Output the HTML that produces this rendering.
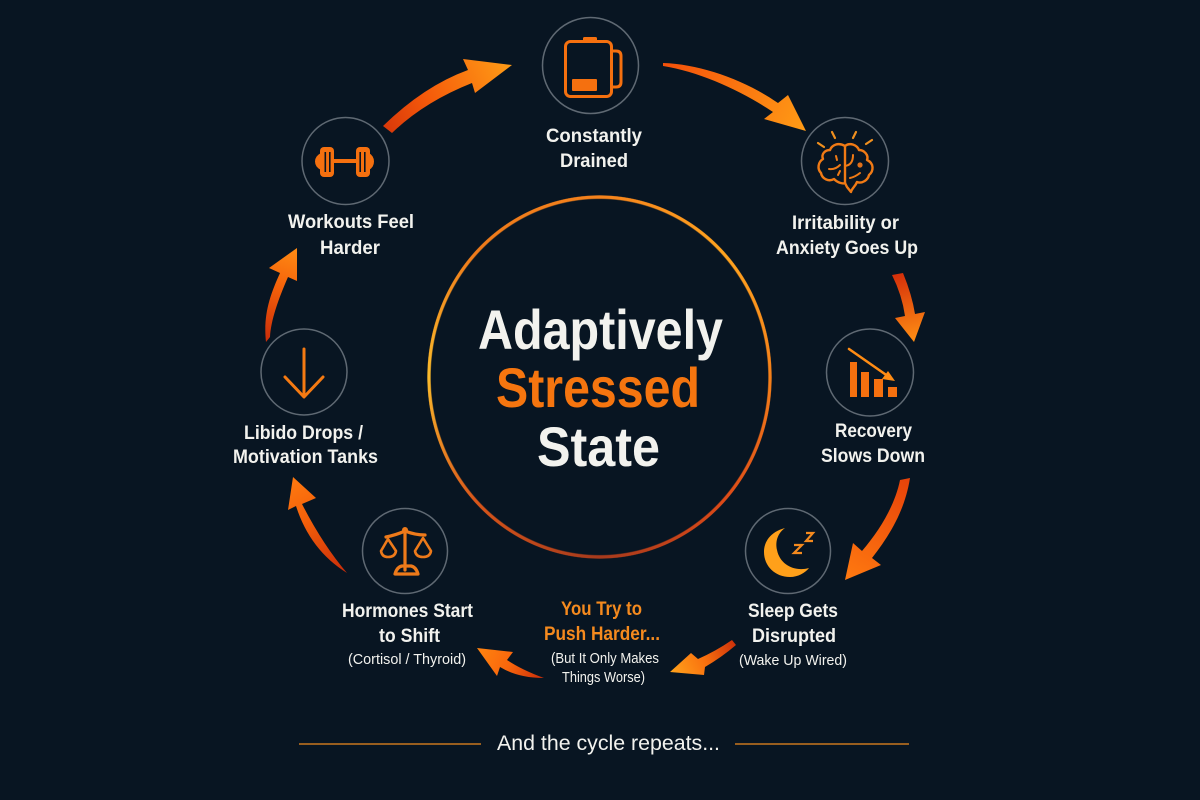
<!DOCTYPE html>
<html><head><meta charset="utf-8"><style>
html,body{margin:0;padding:0;background:#081522}
#w{position:relative;width:1200px;height:800px;overflow:hidden;background:#081522}
#ring{position:absolute;left:427px;top:195px;width:345px;height:364px;border-radius:50%;
background:conic-gradient(#f5821c 0deg,#ffa41f 45deg,#f5801a 90deg,#dc4a18 135deg,#a63a1c 180deg,#d8561a 225deg,#fbbb2c 270deg,#ee7a1a 315deg,#f5821c 360deg);
-webkit-mask:radial-gradient(closest-side,transparent 97.6%,#000 98.2%,#000 99.6%,transparent 100%);
mask:radial-gradient(closest-side,transparent 97.6%,#000 98.2%,#000 99.6%,transparent 100%)}
svg{position:absolute;left:0;top:0;filter:blur(.35px)}
text{font-family:"Liberation Sans",sans-serif;font-weight:700;fill:#f2f2ee}
.s{font-size:15px;font-weight:400}
.o{fill:#f58a1e}
.c{fill:none;stroke:#5f6973;stroke-width:1.5}
.i{fill:none;stroke:#f5700f;stroke-width:3;stroke-linecap:round;stroke-linejoin:round}
.f{fill:#f5700f}
</style></head><body><div id="w"><div id="ring"></div>
<svg width="1200" height="800" viewBox="0 0 1200 800">
<defs>
<linearGradient id="a1" gradientUnits="userSpaceOnUse" x1="385" y1="130" x2="512" y2="66"><stop offset="0" stop-color="#d8380a"/><stop offset=".35" stop-color="#f4580a"/><stop offset="1" stop-color="#ff9c16"/></linearGradient>
<linearGradient id="a2" gradientUnits="userSpaceOnUse" x1="663" y1="63" x2="806" y2="131"><stop offset="0" stop-color="#f4500a"/><stop offset="1" stop-color="#ff9c16"/></linearGradient>
<linearGradient id="a3" gradientUnits="userSpaceOnUse" x1="897" y1="275" x2="914" y2="342"><stop offset="0" stop-color="#d5300a"/><stop offset="1" stop-color="#ff8f14"/></linearGradient>
<linearGradient id="a4" gradientUnits="userSpaceOnUse" x1="905" y1="480" x2="845" y2="580"><stop offset="0" stop-color="#e8440a"/><stop offset="1" stop-color="#ff7a10"/></linearGradient>
<linearGradient id="a5" gradientUnits="userSpaceOnUse" x1="737" y1="640" x2="670" y2="673"><stop offset="0" stop-color="#c92c0a"/><stop offset=".5" stop-color="#f9700e"/><stop offset="1" stop-color="#ffa41c"/></linearGradient>
<linearGradient id="a6" gradientUnits="userSpaceOnUse" x1="543" y1="679" x2="477" y2="648"><stop offset="0" stop-color="#c92c0a"/><stop offset=".5" stop-color="#f9660c"/><stop offset="1" stop-color="#ff8410"/></linearGradient>
<linearGradient id="a7" gradientUnits="userSpaceOnUse" x1="347" y1="573" x2="293" y2="477"><stop offset="0" stop-color="#c92c0a"/><stop offset=".6" stop-color="#f4600a"/><stop offset="1" stop-color="#ff7a10"/></linearGradient>
<linearGradient id="a8" gradientUnits="userSpaceOnUse" x1="266" y1="342" x2="297" y2="248"><stop offset="0" stop-color="#c92c0a"/><stop offset=".55" stop-color="#f4600a"/><stop offset="1" stop-color="#ff8c14"/></linearGradient>
</defs>

<!-- arrows -->
<path fill="url(#a1)" d="M383 126 Q424 86 468 70 L463 59 L512 65 L475 93 L472 83 Q424 102 392 133 Z"/>
<path fill="url(#a2)" d="M663 63 C700 64 745 80 778 103 L788 95 L806 131 L764 119 L773 112 C740 90 700 72 663 66 Z"/>
<path fill="url(#a3)" d="M892 275 L903 273 Q912 295 915 314 L925 312 L914 342 L895 318 L905 316 Q902 295 892 275 Z"/>
<path fill="url(#a4)" d="M900 480 L910 478 C905 510 890 535 872 558 L881 565 L845 580 L853 543 L862 551 C880 530 895 505 900 480 Z"/>
<path fill="url(#a5)" d="M670 672 L691 653 L698 659 Q716 651 732 640 L736 645 Q722 657 705 667 L704 675 Z"/>
<path fill="url(#a6)" d="M477 648 L513 652 L507 660 Q522 670 544 678 Q518 678 500 667 L497 676 Z"/>
<path fill="url(#a7)" d="M293 477 L316 498 L302 504 Q323 545 347 573 Q310 550 296 506 L288 510 Z"/>
<path fill="url(#a8)" d="M266 342 C263 315 270 295 280 273 L269 268 L297 248 L297 281 L288 277 C278 300 271 320 270 337 Z"/>

<!-- node circles -->
<circle class="c" cx="590.5" cy="65.5" r="48"/>
<circle class="c" cx="345.5" cy="161" r="43.5"/>
<circle class="c" cx="845" cy="161" r="43.5"/>
<circle class="c" cx="870" cy="372.5" r="43.5"/>
<circle class="c" cx="788" cy="551" r="42.5"/>
<circle class="c" cx="405" cy="551" r="42.5"/>
<circle class="c" cx="304" cy="372" r="43"/>

<!-- battery -->
<rect class="i" x="565.5" y="41.5" width="46" height="55" rx="5"/>
<rect class="f" x="583" y="37" width="14" height="5" rx="1.5"/>
<path class="i" d="M613 51 H616 Q621 51 621 56 V82 Q621 87 616 87 H613"/>
<rect class="f" x="572" y="79" width="25" height="12" rx="1"/>

<!-- dumbbell -->
<rect class="f" x="334" y="159" width="22" height="4"/>
<rect class="f" x="320" y="147" width="14" height="30" rx="4"/>
<rect class="f" x="356" y="147" width="14" height="30" rx="4"/>
<path class="f" d="M321 153 Q315 156 315 161.5 Q315 167 321 170 Z M369 153 Q374 156 374 161.5 Q374 167 369 170 Z"/>
<path fill="#0a1420" d="M324.5 152 h1.6 v20 h-1.6 Z M329 152 h1.6 v20 h-1.6 Z M359.4 152 h1.6 v20 h-1.6 Z M364 152 h1.6 v20 h-1.6 Z"/>

<!-- brain -->
<g class="i" style="stroke-width:2.4;stroke:#f07a15">
<path d="M845 146 C838 142 832 145 830 150 C825 150 821 154 823 159 C818 162 817 169 821 173 C822 179 829 182 834 179 C838 183 843 184 845 183 V146"/>
<path d="M845 146 C850 142 857 145 859 150 C864 150 869 155 867 160 C874 163 874 171 869 175 C868 180 862 184 857 182 C855 187 852 188 851 192 L847 187 L845 183"/>
<path style="stroke-width:2" d="M829 169 Q835 170 840 165 M838 175 L840 171 M836 156 L837 160 M845 166 Q853 165 853 155 M850 178 Q855 177 860 173"/>
<path style="stroke-width:2.2;stroke:#f0901f" d="M818 143 L824 147 M832 132 L835 138 M856 132 L853 138 M872 140 L866 144"/>
</g>
<circle cx="860" cy="165" r="2.6" fill="#e0701a"/>

<!-- recovery -->
<rect class="f" x="850" y="362" width="7" height="35"/>
<rect class="f" x="861" y="372" width="8" height="25"/>
<rect class="f" x="874" y="379" width="9" height="18"/>
<rect class="f" x="888" y="387" width="9" height="10"/>
<path d="M849 349 L892 379" stroke="#ff8c14" stroke-width="2.5" fill="none" stroke-linecap="round"/>
<path d="M895 381 L882 379 L888 371 Z" fill="#ff8c14"/>

<!-- moon -->
<path fill="#ffa01a" d="M785 528 C770 532 764 542 764 552 C764 566 775 577 790 577 C798 577 805 573 809 568 C795 572 780 565 777 550 C775 541 778 533 785 528 Z"/>
<path d="M794 545 H802 L794 553 H802 M806 533 H813 L806 541 H813" fill="none" stroke="#f58a1e" stroke-width="2.2"/>

<!-- scales -->
<g class="i" style="stroke-width:3.2;stroke:#ee7a1a">
<path d="M405 530 V570"/>
<path d="M386 537 Q396 535 405 531 Q415 535 425 535"/>
<path style="stroke-width:2.6" d="M388 539 L381 551 Q382 557 388 557 Q395 557 396 551 Z"/>
<path style="stroke-width:2.6" d="M423 538 L415 551 Q416 557 423 557 Q430 557 431 551 Z"/>
<path d="M395 574 H418 Q416 567 411 566 H402 Q397 567 395 574 Z"/>
</g>
<circle cx="405" cy="530" r="3" fill="#ee7a1a"/>

<!-- libido arrow -->
<path d="M304 349 V395 M285 377 L304 397 L323 377" fill="none" stroke="#f57a12" stroke-width="3" stroke-linecap="round" stroke-linejoin="round"/>

<!-- title -->
<text x="478" y="349" font-size="56" textLength="245" lengthAdjust="spacingAndGlyphs">Adaptively</text>
<text x="496" y="407" font-size="56" textLength="204" lengthAdjust="spacingAndGlyphs" style="fill:#f5750f">Stressed</text>
<text x="537" y="466" font-size="56" textLength="123" lengthAdjust="spacingAndGlyphs">State</text>

<!-- labels -->
<text x="546" y="142" font-size="19" textLength="96" lengthAdjust="spacingAndGlyphs">Constantly</text>
<text x="560" y="167" font-size="19" textLength="68" lengthAdjust="spacingAndGlyphs">Drained</text>
<text x="288" y="228" font-size="19" textLength="126" lengthAdjust="spacingAndGlyphs">Workouts Feel</text>
<text x="320" y="254" font-size="19" textLength="60" lengthAdjust="spacingAndGlyphs">Harder</text>
<text x="792" y="229" font-size="19" textLength="107" lengthAdjust="spacingAndGlyphs">Irritability or</text>
<text x="776" y="254" font-size="19" textLength="142" lengthAdjust="spacingAndGlyphs">Anxiety Goes Up</text>
<text x="835" y="437" font-size="19" textLength="77" lengthAdjust="spacingAndGlyphs">Recovery</text>
<text x="821" y="462" font-size="19" textLength="104" lengthAdjust="spacingAndGlyphs">Slows Down</text>
<text x="748" y="617" font-size="19" textLength="90" lengthAdjust="spacingAndGlyphs">Sleep Gets</text>
<text x="752" y="642" font-size="19" textLength="84" lengthAdjust="spacingAndGlyphs">Disrupted</text>
<text class="s" x="739" y="665" textLength="108" lengthAdjust="spacingAndGlyphs">(Wake Up Wired)</text>
<text x="342" y="617" font-size="19" textLength="131" lengthAdjust="spacingAndGlyphs">Hormones Start</text>
<text x="379" y="642" font-size="19" textLength="61" lengthAdjust="spacingAndGlyphs">to Shift</text>
<text class="s" x="348" y="664" textLength="118" lengthAdjust="spacingAndGlyphs">(Cortisol / Thyroid)</text>
<text class="o" x="561" y="615" font-size="19" textLength="81" lengthAdjust="spacingAndGlyphs">You Try to</text>
<text class="o" x="544" y="640" font-size="19" textLength="116" lengthAdjust="spacingAndGlyphs">Push Harder...</text>
<text class="s" x="551" y="663" textLength="108" lengthAdjust="spacingAndGlyphs">(But It Only Makes</text>
<text class="s" x="562" y="682" textLength="83" lengthAdjust="spacingAndGlyphs">Things Worse)</text>
<text x="244" y="439" font-size="19" textLength="119" lengthAdjust="spacingAndGlyphs">Libido Drops /</text>
<text x="233" y="463" font-size="19" textLength="145" lengthAdjust="spacingAndGlyphs">Motivation Tanks</text>

<!-- footer -->
<path d="M299 744 H481 M735 744 H909" stroke="#c8761e" stroke-width="1.5" fill="none"/>
<text x="497" y="750" font-size="21" textLength="223" lengthAdjust="spacingAndGlyphs" style="font-weight:400">And the cycle repeats...</text>
</svg></div></body></html>
